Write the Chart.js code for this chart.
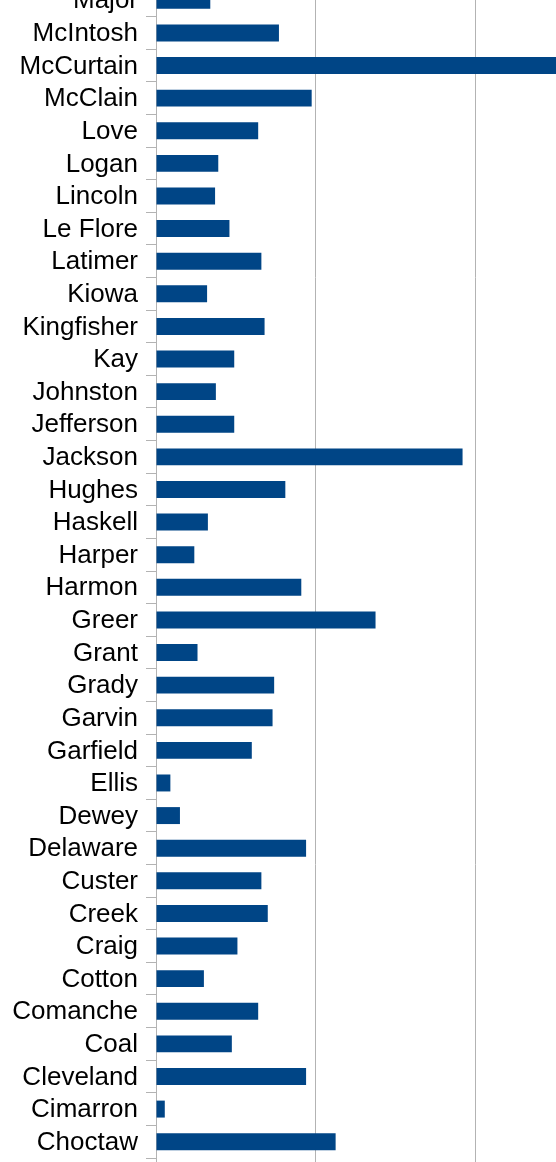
<!DOCTYPE html>
<html>
<head>
<meta charset="utf-8">
<script src="https://cdn.jsdelivr.net/npm/chart.js@4/dist/chart.umd.min.js"></script>
<style>
  html, body { margin: 0; padding: 0; background: #fff; overflow: hidden; width: 556px; height: 1162px; }
  #countyChart { position: absolute; left: 0; top: -46px; }
</style>
</head>
<body>
<canvas id="countyChart" width="660" height="1244"></canvas>
<script>
// counties, top to bottom as shown
const counties = [
  "Major", "McIntosh", "McCurtain", "McClain", "Love", "Logan", "Lincoln", "Le Flore",
  "Latimer", "Kiowa", "Kingfisher", "Kay", "Johnston", "Jefferson", "Jackson", "Hughes",
  "Haskell", "Harper", "Harmon", "Greer", "Grant", "Grady", "Garvin", "Garfield",
  "Ellis", "Dewey", "Delaware", "Custer", "Creek", "Craig", "Cotton", "Comanche",
  "Coal", "Cleveland", "Cimarron", "Choctaw"
];
const values = [
  3.4, 7.7, 26.0, 9.75, 6.4, 3.9, 3.7, 4.6,
  6.6, 3.2, 6.8, 4.9, 3.75, 4.9, 19.2, 8.1,
  3.25, 2.4, 9.1, 13.75, 2.6, 7.4, 7.3, 6.0,
  0.9, 1.5, 9.4, 6.6, 7.0, 5.1, 3.0, 6.4,
  4.75, 9.4, 0.55, 11.25
];
const xTicks = [0, 10, 20, 30];

const gridGray = "#b3b3b3";

const ctx = document.getElementById("countyChart").getContext("2d");
new Chart(ctx, {
  type: "bar",
  data: {
    labels: counties,
    datasets: [{
      data: values,
      backgroundColor: "#004586",
      borderWidth: 0,
      categoryPercentage: 1,
      barPercentage: 0.52
    }]
  },
  options: {
    indexAxis: "y",
    responsive: false,
    animation: false,
    layout: { padding: { top: 30, right: 25, bottom: 0, left: 0 } },
    plugins: { legend: { display: false }, tooltip: { enabled: false } },
    scales: {
      x: {
        min: xTicks[0],
        max: xTicks[xTicks.length - 1],
        afterBuildTicks: s => { s.ticks = xTicks.map(v => ({ value: v })); },
        afterFit: s => { s.height = 40; },
        ticks: { display: false },
        border: { display: false },
        grid: { color: gridGray, lineWidth: 1, drawTicks: true, tickLength: 10 }
      },
      y: {
        afterFit: s => { s.width = 156; },
        border: { display: true, color: gridGray, width: 1 },
        grid: { offset: true, drawOnChartArea: false, drawTicks: true, tickLength: 10, color: gridGray },
        ticks: {
          autoSkip: false,
          padding: 8,
          labelOffset: 1,
          color: "#000",
          font: { family: "Liberation Sans", size: 26 }
        }
      }
    }
  }
});
</script>
</body>
</html>
